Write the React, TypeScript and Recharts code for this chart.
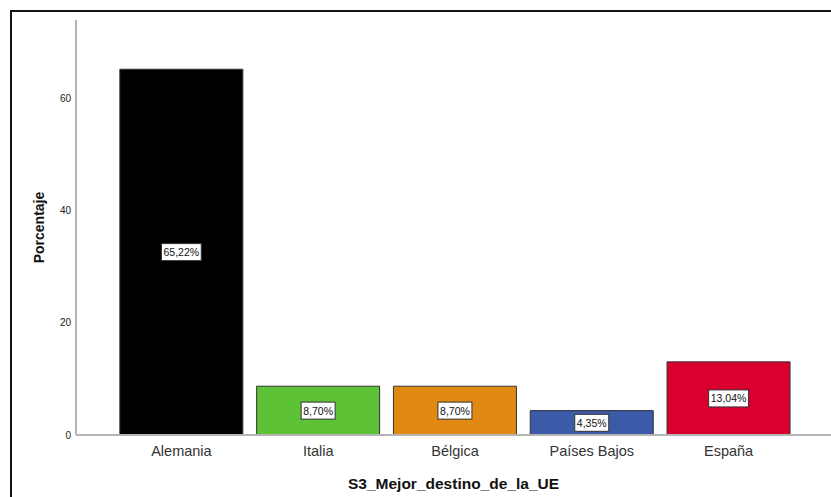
import React from 'react';
import { BarChart, Bar, XAxis, YAxis, Cell, LabelList } from 'recharts';

const categories = ['Alemania', 'Italia', 'Bélgica', 'Países Bajos', 'España'];
const porcentajes = [65.22, 8.7, 8.7, 4.35, 13.04];
const colores = ['#000000', '#5ec236', '#e08a12', '#3b5ba8', '#d90030'];
const yTicks = [0, 20, 40, 60];

const data = categories.map((c, i) => ({ name: c, value: porcentajes[i] }));

const font = '"Liberation Sans", Arial, sans-serif';

const fmt = (v: number) => v.toFixed(2).replace('.', ',') + '%';

function BoxLabel(props: any) {
  const { x, y, width, height, value } = props;
  const txt = fmt(Number(value));
  const w = txt.length * 5.8 + 5;
  const h = 17;
  const cx = x + width / 2;
  const cy = y + height / 2;
  return (
    <g>
      <rect x={cx - w / 2} y={cy - h / 2} width={w} height={h} fill="#fff" stroke="#333" strokeWidth={1} />
      <text x={cx} y={cy + 4} textAnchor="middle" fontSize={10.5} fill="#111" fontFamily={font}>{txt}</text>
    </g>
  );
}

export default function App() {
  return (
    <div style={{ position: 'fixed', left: 0, top: 0, width: 831, height: 497, background: '#fff', overflow: 'hidden' }}>
      <div style={{ position: 'absolute', left: 10, top: 10, width: 900, height: 600, borderLeft: '2px solid #111', borderTop: '2px solid #111' }} />
      <div style={{ position: 'absolute', left: 0, top: 0 }}>
        <BarChart width={831} height={497} data={data} margin={{ top: 20, right: 0, bottom: 0, left: 0 }} barCategoryGap="5%">
          <YAxis
            width={76}
            domain={[0, 74]}
            ticks={yTicks}
            interval={0}
            tickLine={false}
            tickSize={3}
            tickMargin={2}
            axisLine={{ stroke: '#b5b5b5', strokeWidth: 2 }}
            tick={{ fontSize: 10, fill: '#222', fontFamily: font }}
            label={(p: any) => {
              const vb = p.viewBox;
              const cy = vb.y + vb.height / 2;
              return (
                <text x={44} y={cy} transform={`rotate(-90, 44, ${cy})`} textAnchor="middle" fontSize={14} fontWeight="bold" fill="#111" fontFamily={font}>
                  Porcentaje
                </text>
              );
            }}
          />
          <XAxis
            dataKey="name"
            height={62}
            padding={{ left: 37, right: 34 }}
            tickLine={false}
            tickMargin={5}
            axisLine={{ stroke: '#b5b5b5', strokeWidth: 2 }}
            tick={{ fontSize: 14.5, fill: '#333', fontFamily: font }}
            label={(p: any) => {
              const vb = p.viewBox;
              return (
                <text x={vb.x + vb.width / 2} y={489} textAnchor="middle" fontSize={15.5} fontWeight="bold" fill="#111" fontFamily={font}>
                  S3_Mejor_destino_de_la_UE
                </text>
              );
            }}
          />
          <Bar dataKey="value" stroke="#333" strokeWidth={1} isAnimationActive={false}>
            {data.map((d, i) => (
              <Cell key={d.name} fill={colores[i]} />
            ))}
            <LabelList dataKey="value" content={BoxLabel} />
          </Bar>
        </BarChart>
      </div>
    </div>
  );
}
